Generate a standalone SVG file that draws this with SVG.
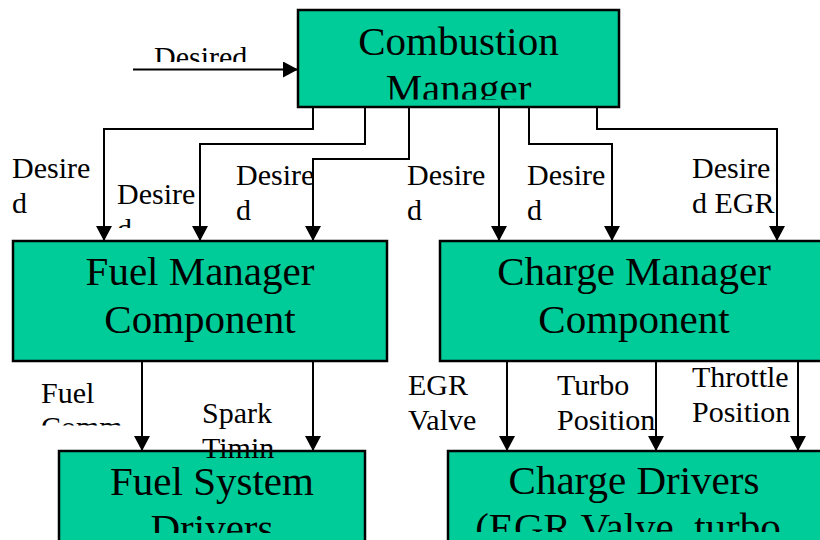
<svg xmlns="http://www.w3.org/2000/svg" width="820" height="540" viewBox="0 0 820 540">
<style>
.box{fill:#00CC99;stroke:#000;stroke-width:2.5}
.bt{font-family:"Liberation Serif","Times New Roman",serif;font-size:41px;fill:#000;text-anchor:middle}
.lb{font-family:"Liberation Serif","Times New Roman",serif;font-size:30px;fill:#000}
.ln{fill:none;stroke:#000;stroke-width:2;marker-end:url(#ah)}
</style>
<defs>
<marker id="ah" markerUnits="userSpaceOnUse" markerWidth="15" markerHeight="16" refX="15" refY="8" orient="auto" viewBox="0 0 15 16">
<path d="M0,0 L15,8 L0,16 z" fill="#000"/>
</marker>
<clipPath id="cCM"><rect x="298" y="10" width="321" height="89.5"/></clipPath>
<clipPath id="cFM"><rect x="13" y="241" width="374" height="112"/></clipPath>
<clipPath id="cCH"><rect x="440" y="241" width="390" height="112"/></clipPath>
<clipPath id="cFS"><rect x="59" y="451" width="306" height="82"/></clipPath>
<clipPath id="cCD"><rect x="448" y="451" width="380" height="81"/></clipPath>
<clipPath id="cIn"><rect x="140" y="30" width="130" height="32"/></clipPath>
<clipPath id="cL2"><rect x="100" y="170" width="100" height="58"/></clipPath>
<clipPath id="cFuel"><rect x="30" y="370" width="110" height="55.5"/></clipPath>
<clipPath id="cSpark"><rect x="190" y="390" width="110" height="71.5"/></clipPath>
</defs>

<g id="combustion-manager">
<rect class="box" x="298" y="10" width="321" height="97"/>
<g clip-path="url(#cCM)">
<text class="bt" x="458.5" y="55">Combustion</text>
<text class="bt" x="458.5" y="102">Manager</text>
</g>
</g>

<g id="fuel-manager">
<rect class="box" x="13" y="241" width="374" height="120"/>
<g clip-path="url(#cFM)">
<text class="bt" x="200" y="285">Fuel Manager</text>
<text class="bt" x="200" y="332.5">Component</text>
</g>
</g>

<g id="charge-manager">
<rect class="box" x="440" y="241" width="395" height="120"/>
<g clip-path="url(#cCH)">
<text class="bt" x="634" y="285">Charge Manager</text>
<text class="bt" x="634" y="332.5">Component</text>
</g>
</g>

<g id="fuel-system-drivers">
<rect class="box" x="59" y="451" width="306" height="100"/>
<g clip-path="url(#cFS)">
<text class="bt" x="212" y="495">Fuel System</text>
<text class="bt" x="212" y="542">Drivers</text>
</g>
</g>

<g id="charge-drivers">
<rect class="box" x="448" y="451" width="390" height="100"/>
<g clip-path="url(#cCD)">
<text class="bt" x="634" y="493.5">Charge Drivers</text>
<text class="bt" x="628" y="540.5">(EGR Valve, turbo</text>
</g>
</g>

<g id="connectors">
<path class="ln" d="M133,69.5 H298"/>
<path class="ln" d="M313,107 V129 H104 V241"/>
<path class="ln" d="M365,107 V144 H200 V241"/>
<path class="ln" d="M409,107 V159 H313 V241"/>
<path class="ln" d="M499,107 V241"/>
<path class="ln" d="M529,107 V144 H612 V241"/>
<path class="ln" d="M597,107 V129 H777 V241"/>
<path class="ln" d="M142,361 V451"/>
<path class="ln" d="M313,361 V451"/>
<path class="ln" d="M507,361 V451"/>
<path class="ln" d="M656,361 V451"/>
<path class="ln" d="M798,361 V451"/>
</g>

<g id="labels">
<text class="lb" x="154" y="66.5" clip-path="url(#cIn)">Desired</text>
<text class="lb" x="12" y="178">Desire</text>
<text class="lb" x="12" y="213">d</text>
<g clip-path="url(#cL2)">
<text class="lb" x="117" y="204">Desire</text>
<text class="lb" x="117" y="239">d</text>
</g>
<text class="lb" x="236" y="185">Desire</text>
<text class="lb" x="236" y="220">d</text>
<text class="lb" x="407" y="185">Desire</text>
<text class="lb" x="407" y="220">d</text>
<text class="lb" x="527" y="185">Desire</text>
<text class="lb" x="527" y="220">d</text>
<text class="lb" x="692" y="178">Desire</text>
<text class="lb" x="692" y="213">d EGR</text>
<g clip-path="url(#cFuel)">
<text class="lb" x="41" y="403">Fuel</text>
<text class="lb" x="41" y="437">Comm</text>
</g>
<g clip-path="url(#cSpark)">
<text class="lb" x="202" y="423">Spark</text>
<text class="lb" x="202" y="458">Timin</text>
</g>
<text class="lb" x="408" y="395">EGR</text>
<text class="lb" x="408" y="430">Valve</text>
<text class="lb" x="557" y="395">Turbo</text>
<text class="lb" x="557" y="430">Position</text>
<text class="lb" x="692" y="387">Throttle</text>
<text class="lb" x="692" y="422">Position</text>
</g>
</svg>
